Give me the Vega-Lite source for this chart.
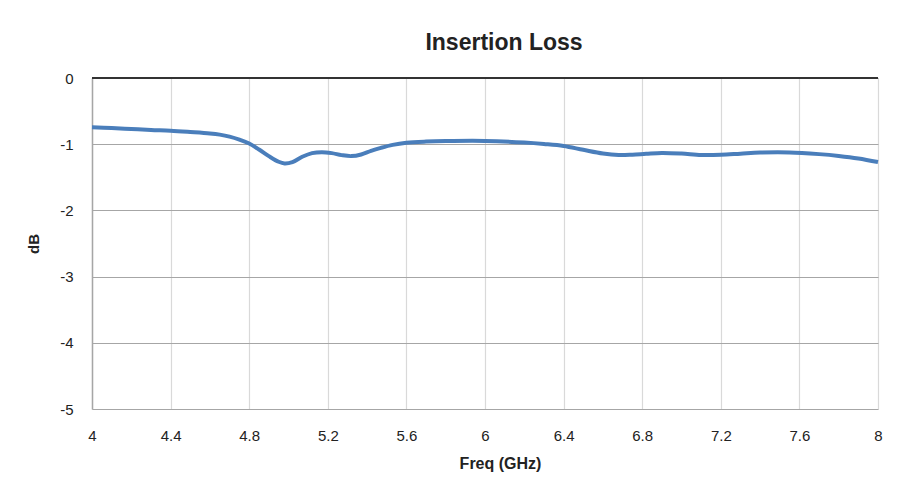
{
  "$schema": "https://vega.github.io/schema/vega-lite/v6.json",
  "width": 786,
  "height": 331,
  "autosize": {"type": "none"},
  "padding": {"left": 92, "top": 78, "right": 22, "bottom": 90},
  "background": "white",
  "title": {
    "text": "Insertion Loss",
    "font": "Liberation Sans",
    "fontSize": 23,
    "fontWeight": "bold",
    "color": "#222222",
    "anchor": "middle",
    "baseline": "alphabetic",
    "offset": -2,
    "dx": 19
  },
  "config": {
    "view": {"stroke": null},
    "axis": {
      "labelFont": "Liberation Sans",
      "labelFontSize": 15,
      "labelColor": "#222222",
      "titleFont": "Liberation Sans",
      "titleFontWeight": "bold",
      "titleColor": "#222222",
      "ticks": false
    }
  },
  "data": {
    "values": [
      {"f": 4.0, "db": -0.745},
      {"f": 4.1, "db": -0.755},
      {"f": 4.2, "db": -0.77},
      {"f": 4.3, "db": -0.785},
      {"f": 4.4, "db": -0.796},
      {"f": 4.5, "db": -0.815},
      {"f": 4.6, "db": -0.837},
      {"f": 4.65, "db": -0.855},
      {"f": 4.7, "db": -0.885},
      {"f": 4.75, "db": -0.93},
      {"f": 4.8, "db": -0.99},
      {"f": 4.85, "db": -1.08},
      {"f": 4.9, "db": -1.18},
      {"f": 4.95, "db": -1.265},
      {"f": 4.98, "db": -1.29},
      {"f": 5.02, "db": -1.27},
      {"f": 5.07, "db": -1.19},
      {"f": 5.12, "db": -1.135},
      {"f": 5.17, "db": -1.12},
      {"f": 5.22, "db": -1.135},
      {"f": 5.27, "db": -1.165},
      {"f": 5.32, "db": -1.18},
      {"f": 5.37, "db": -1.155},
      {"f": 5.42, "db": -1.1},
      {"f": 5.47, "db": -1.055},
      {"f": 5.53, "db": -1.01},
      {"f": 5.6, "db": -0.978},
      {"f": 5.7, "db": -0.96},
      {"f": 5.8, "db": -0.952},
      {"f": 6.0, "db": -0.95},
      {"f": 6.2, "db": -0.975},
      {"f": 6.3, "db": -0.997},
      {"f": 6.4, "db": -1.027},
      {"f": 6.5, "db": -1.085},
      {"f": 6.6, "db": -1.14},
      {"f": 6.68, "db": -1.163},
      {"f": 6.75, "db": -1.158},
      {"f": 6.82, "db": -1.145},
      {"f": 6.9, "db": -1.132},
      {"f": 7.0, "db": -1.142},
      {"f": 7.1, "db": -1.163},
      {"f": 7.2, "db": -1.16},
      {"f": 7.3, "db": -1.143},
      {"f": 7.4, "db": -1.126},
      {"f": 7.55, "db": -1.124},
      {"f": 7.7, "db": -1.15},
      {"f": 7.8, "db": -1.177},
      {"f": 7.9, "db": -1.215},
      {"f": 8.0, "db": -1.27}
    ]
  },
  "layer": [
    {
      "mark": {"type": "rule", "color": "#333333", "strokeWidth": 2},
      "encoding": {"y": {"datum": 0, "type": "quantitative", "scale": {"domain": [-5, 0]}}}
    },
    {
      "mark": {"type": "line", "color": "#4a7ebb", "strokeWidth": 4, "interpolate": "catmull-rom"},
      "encoding": {
        "x": {
          "field": "f",
          "type": "quantitative",
          "scale": {"domain": [4, 8], "nice": false, "zero": false},
          "axis": {
            "title": "Freq (GHz)",
            "titleFontSize": 16,
            "titlePadding": 12,
            "titleX": 408,
            "values": [4, 4.4, 4.8, 5.2, 5.6, 6, 6.4, 6.8, 7.2, 7.6, 8],
            "labelExpr": "'' + datum.value",
            "labelFlush": false,
            "labelPadding": 19,
            "domain": false,
            "grid": true,
            "gridColor": "#d9d9d9",
            "gridWidth": 1.2
          }
        },
        "y": {
          "field": "db",
          "type": "quantitative",
          "scale": {"domain": [-5, 0], "nice": false},
          "axis": {
            "title": "dB",
            "titleFontSize": 15,
            "titlePadding": 18,
            "values": [-5, -4, -3, -2, -1, 0],
            "labelExpr": "'' + datum.value",
            "labelFlush": false,
            "labelPadding": 19,
            "domain": true,
            "domainColor": "#a6a6a6",
            "domainWidth": 1.5,
            "grid": true,
            "gridColor": "#a6a6a6",
            "gridWidth": 1.2
          }
        }
      }
    }
  ]
}
